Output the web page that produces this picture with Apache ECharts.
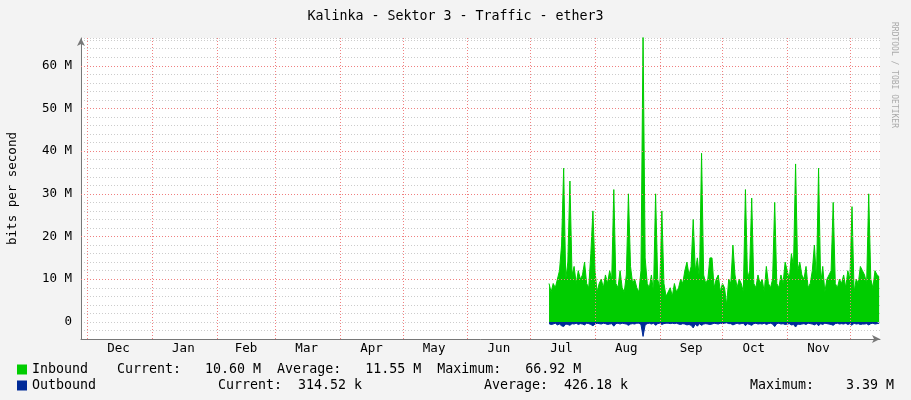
<!DOCTYPE html>
<html>
<head>
<meta charset="utf-8">
<script src="https://cdn.jsdelivr.net/npm/echarts@6/dist/echarts.min.js"></script>
<style>
  html, body { margin: 0; padding: 0; background: #f3f3f3; }
  #chart { width: 911px; height: 400px; }
</style>
</head>
<body>
<div id="chart"></div>
<script>
// days counted from Dec 1
const firstDay = 221;
const inbound = [
  9, 7, 9, 8, 10, 12, 18, 36, 10, 14,
  33, 11, 13, 9, 12, 10, 11, 14, 9, 8,
  16, 26, 12, 7, 9, 10, 8, 11, 9, 12,
  10, 31, 9, 8, 12, 8, 7, 11, 30, 13,
  9, 10, 8, 7, 12, 67, 15, 9, 8, 11,
  7, 30, 10, 8, 26, 9, 6, 7, 8, 6,
  9, 7, 8, 10, 9, 12, 14, 11, 13, 24,
  12, 15, 10, 39.5, 11, 9, 10, 15, 15, 8,
  10, 11, 7, 9, 8, 4, 10, 9, 18, 11,
  8, 10, 9, 7, 31, 10, 12, 29, 9, 8,
  11, 9, 10, 7, 13, 9, 8, 10, 28, 9,
  8, 11, 9, 14, 12, 10, 16, 13, 37, 12,
  14, 11, 10, 13, 8, 9, 12, 18, 10, 36,
  9, 13, 7, 10, 11, 12, 28, 9, 8, 10,
  9, 11, 8, 12, 10, 27, 7, 10, 9, 13,
  12, 11, 9, 30, 10, 8, 12, 11, 10.6
];
const outbound = [
  -0.4, -0.6, -0.5, -0.3, -0.7, -0.5, -0.9, -1.1, -0.5, -0.6,
  -0.8, -0.4, -0.5, -0.3, -0.6, -0.4, -0.5, -0.7, -0.3, -0.4,
  -0.6, -0.9, -0.5, -0.3, -0.4, -0.5, -0.3, -0.4, -0.6, -0.5,
  -0.4, -1.0, -0.4, -0.3, -0.5, -0.3, -0.4, -0.5, -0.8, -0.5,
  -0.4, -0.5, -0.3, -0.3, -0.6, -3.39, -0.7, -0.4, -0.3, -0.5,
  -0.3, -0.8, -0.4, -0.3, -0.6, -0.4, -0.3, -0.3, -0.4, -0.3,
  -0.4, -0.3, -0.5, -0.6, -0.4, -0.5, -0.7, -0.6, -0.8, -1.4,
  -0.5, -1.0, -0.4, -0.8, -0.5, -0.4, -0.5, -0.6, -0.5, -0.3,
  -0.4, -0.5, -0.3, -0.4, -0.3, -0.2, -0.4, -0.4, -0.7, -0.5,
  -0.3, -0.5, -0.4, -0.3, -0.9, -0.4, -0.6, -0.8, -0.4, -0.3,
  -0.5, -0.4, -0.5, -0.3, -0.6, -0.4, -0.3, -0.5, -1.1, -0.4,
  -0.3, -0.5, -0.4, -0.6, -0.5, -0.4, -0.7, -0.6, -1.2, -0.5,
  -0.6, -0.5, -0.4, -0.6, -0.3, -0.4, -0.5, -0.7, -0.4, -0.9,
  -0.4, -0.6, -0.3, -0.4, -0.5, -0.6, -0.8, -0.4, -0.3, -0.5,
  -0.4, -0.5, -0.3, -0.6, -0.4, -0.8, -0.3, -0.5, -0.4, -0.6,
  -0.5, -0.5, -0.4, -0.7, -0.4, -0.3, -0.5, -0.4, -0.31
];
const monthStarts = [0, 31, 62, 90, 121, 151, 182, 212, 243, 274, 304, 335, 365];
const monthMid = { 15: 'Dec', 46: 'Jan', 76: 'Feb', 105: 'Mar', 136: 'Apr', 166: 'May',
  197: 'Jun', 227: 'Jul', 258: 'Aug', 289: 'Sep', 319: 'Oct', 350: 'Nov' };
const majorY = [10, 20, 30, 40, 50, 60];

const mono = 'DejaVu Sans Mono';
const chart = echarts.init(document.getElementById('chart'));
const toPairs = arr => arr.map((v, i) => [firstDay + i, v]);
const txt = { fontFamily: mono, fontSize: 13.3, fontWeight: 'normal', color: '#000' };

chart.setOption({
  backgroundColor: '#f3f3f3',
  animation: false,
  textStyle: { fontFamily: mono },
  title: [
    { text: 'Kalinka - Sektor 3 - Traffic - ether3', left: 'center', top: 5, textStyle: txt },
    { text: 'Current:   10.60 M  Average:   11.55 M  Maximum:   66.92 M', left: 112, top: 358, textStyle: txt },
    { text: 'Current:  314.52 k', left: 213, top: 374, textStyle: txt },
    { text: 'Average:  426.18 k', left: 479, top: 374, textStyle: txt },
    { text: 'Maximum:    3.39 M', left: 745, top: 374, textStyle: txt }
  ],
  legend: [
    { data: ['Inbound'], left: 12, top: 358, itemWidth: 10, itemHeight: 10, itemGap: 4,
      icon: 'rect', textStyle: txt },
    { data: ['Outbound'], left: 12, top: 374, itemWidth: 10, itemHeight: 10, itemGap: 4,
      icon: 'rect', textStyle: txt }
  ],
  graphic: [
    { type: 'rect', shape: { x: 81, y: 38, width: 799, height: 301 }, style: { fill: '#fff' }, z: -10 },
    { type: 'text', x: 898, y: 22, rotation: -Math.PI / 2,
      style: { text: 'RRDTOOL / TOBI OETIKER', fill: '#aaa', font: '8px ' + mono } }
  ],
  grid: { left: 81, right: 31, top: 38, bottom: 61, outerBoundsMode: 'none' },
  xAxis: {
    type: 'value', min: -3, max: 379.4, interval: 1,
    axisLine: { onZero: false, lineStyle: { color: '#777' }, symbol: ['none', 'arrow'], symbolSize: [6, 8] },
    axisTick: { show: false },
    splitLine: { show: false },
    axisLabel: { fontFamily: mono, fontSize: 12.5, color: '#000', margin: 3,
      formatter: v => monthMid[v] || '' }
  },
  yAxis: {
    type: 'value', min: -4, max: 66.5, interval: 2,
    name: 'bits per second', nameLocation: 'middle', nameGap: 62, nameRotate: 90,
    nameTextStyle: { fontFamily: mono, fontSize: 12.5, color: '#000' },
    axisLine: { show: true, onZero: false, lineStyle: { color: '#777' }, symbol: ['none', 'arrow'], symbolSize: [6, 8] },
    axisTick: { show: false },
    splitLine: { lineStyle: { color: '#ccc', type: [1, 2] } },
    axisLabel: { fontFamily: mono, fontSize: 12.5, color: '#000', margin: 9,
      formatter: v => v === 0 ? '0' : (v > 0 && v % 10 === 0 ? v + ' M' : '') }
  },
  series: [
    {
      name: 'Inbound', type: 'line', data: toPairs(inbound), showSymbol: false,
      color: '#00cc00', lineStyle: { width: 1, color: '#00cc00' },
      areaStyle: { color: '#00cc00', opacity: 1 }, z: 3,
      markLine: {
        silent: true, symbol: 'none', label: { show: false },
        lineStyle: { color: '#f08080', type: [1, 2], width: 1 },
        data: monthStarts.map(d => ({ xAxis: d })).concat(majorY.map(v => ({ yAxis: v })))
      }
    },
    {
      name: 'Outbound', type: 'line', data: toPairs(outbound), showSymbol: false,
      color: '#002a97', lineStyle: { width: 1, color: '#002a97' },
      areaStyle: { color: '#002a97', opacity: 1 }, z: 3
    }
  ]
});
</script>
</body>
</html>
